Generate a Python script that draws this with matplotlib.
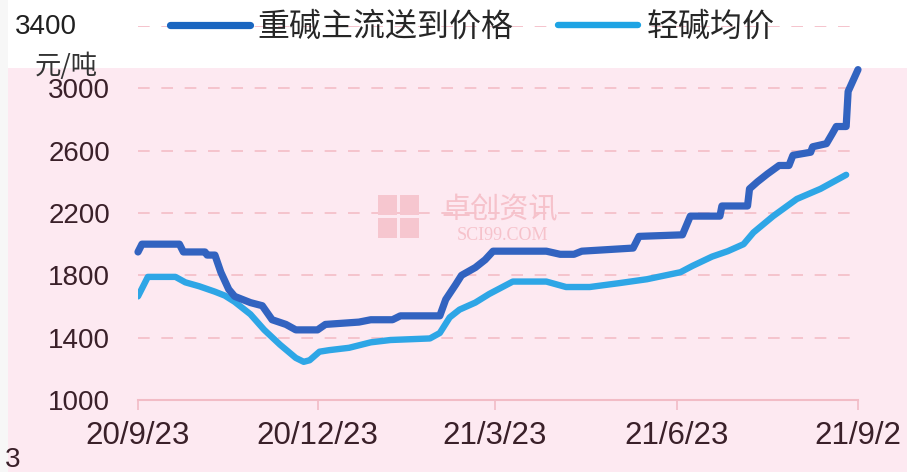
import matplotlib
matplotlib.use("Agg")
import matplotlib.pyplot as plt
from matplotlib.patches import Rectangle
import pandas as pd

# ---- data ----
heavy_dates = ["2020-09-23", "2020-09-25", "2020-10-14", "2020-10-16", "2020-10-27", "2020-10-28",
               "2020-11-01", "2020-11-04", "2020-11-08", "2020-11-11", "2020-11-19", "2020-11-25",
               "2020-11-30", "2020-12-07", "2020-12-12", "2020-12-23", "2020-12-27", "2021-01-13",
               "2021-01-19", "2021-01-30", "2021-02-03", "2021-02-23", "2021-02-26", "2021-03-03",
               "2021-03-06", "2021-03-13", "2021-03-18", "2021-03-22", "2021-04-18", "2021-04-25",
               "2021-05-02", "2021-05-06", "2021-06-01", "2021-06-04", "2021-06-26", "2021-06-30",
               "2021-07-15", "2021-07-16", "2021-07-29", "2021-07-30", "2021-08-03", "2021-08-08",
               "2021-08-14", "2021-08-19", "2021-08-21", "2021-08-30", "2021-08-31", "2021-09-07",
               "2021-09-10", "2021-09-12", "2021-09-17", "2021-09-18", "2021-09-23"]
heavy_values = [1950, 2000, 2000, 1950, 1950, 1930,
                1930, 1820, 1710, 1665, 1625, 1605,
                1515, 1485, 1450, 1450, 1485, 1500,
                1515, 1515, 1540, 1540, 1645, 1740,
                1800, 1850, 1900, 1955, 1955, 1935,
                1935, 1955, 1975, 2050, 2060, 2180,
                2180, 2245, 2245, 2355, 2400, 2450,
                2505, 2505, 2570, 2590, 2625, 2645,
                2710, 2755, 2755, 2980, 3120]

light_dates = ["2020-09-23", "2020-09-28", "2020-10-12", "2020-10-17", "2020-10-24", "2020-11-01",
               "2020-11-06", "2020-11-11", "2020-11-19", "2020-11-26", "2020-12-04", "2020-12-12",
               "2020-12-16", "2020-12-19", "2020-12-24", "2020-12-29", "2021-01-08", "2021-01-19",
               "2021-01-29", "2021-02-18", "2021-02-23", "2021-02-28", "2021-03-05", "2021-03-13",
               "2021-03-20", "2021-04-01", "2021-04-18", "2021-04-28", "2021-05-10", "2021-05-25",
               "2021-06-08", "2021-06-25", "2021-07-01", "2021-07-11", "2021-07-19", "2021-07-27",
               "2021-08-01", "2021-08-11", "2021-08-23", "2021-09-04", "2021-09-17"]
light_values = [1665, 1790, 1790, 1755, 1730, 1695,
                1670, 1630, 1550, 1450, 1355, 1270,
                1245, 1255, 1310, 1320, 1335, 1370,
                1385, 1395, 1430, 1530, 1580, 1625,
                1680, 1760, 1760, 1725, 1725, 1750,
                1775, 1820, 1860, 1920, 1955, 2000,
                2075, 2180, 2290, 2355, 2445]

series_names = ["重碱主流送到价格", "轻碱均价"]
x_tick_dates = ["2020-09-23", "2020-12-23", "2021-03-23", "2021-06-23", "2021-09-23"]
x_tick_labels = ["20/9/23", "20/12/23", "21/3/23", "21/6/23", "21/9/2"]
y_ticks = [1000, 1400, 1800, 2200, 2600, 3000, 3400]
unit_label = "元/吨"

# ---- figure ----
W, H = 907, 472
fig = plt.figure(figsize=(W / 100, H / 100), dpi=100)
fig.patch.set_facecolor("#f7f7f7")
fig.patches.append(Rectangle((8 / W, 0), 1 - 8 / W, 1 - 68 / H, transform=fig.transFigure,
                             facecolor="#fde9f1", edgecolor="none", zorder=-1))
fig.patches.append(Rectangle((8 / W, 1 - 68 / H), 1 - 8 / W, 68 / H, transform=fig.transFigure,
                             facecolor="#ffffff", edgecolor="none", zorder=-1))

ax = fig.add_axes([138 / W, 1 - 400 / H, (858 - 138) / W, (400 - 26) / H])
ax.set_facecolor("none")

hd = pd.to_datetime(heavy_dates)
ld = pd.to_datetime(light_dates)
ax.plot(hd, heavy_values, color="#3263c0", lw=5.2, solid_capstyle="round",
        solid_joinstyle="round", label=series_names[0], zorder=3, clip_on=False)
ax.plot(ld, light_values, color="#2ea6e6", lw=4.6, solid_capstyle="round",
        solid_joinstyle="round", label=series_names[1], zorder=2)

ax.set_xlim(pd.Timestamp(x_tick_dates[0]), pd.Timestamp(x_tick_dates[-1]))
ax.set_ylim(y_ticks[0], y_ticks[-1])
ax.set_yticks(y_ticks)
ylabels = [str(v) for v in y_ticks]
top_label = ylabels[-1]
ylabels[-1] = ""
ax.set_yticklabels(ylabels, fontsize=20, family="Liberation Sans", color="#3a2029")
ax.set_xticks(pd.to_datetime(x_tick_dates))
ax.set_xticklabels(x_tick_labels, fontsize=22.5, family="Liberation Sans", color="#3a2029")

ax.tick_params(axis="y", length=0, pad=20)
ax.tick_params(axis="x", length=7, width=1.2, color="#f2bcc6", pad=8)

for s in ["top", "right", "left"]:
    ax.spines[s].set_visible(False)
ax.spines["bottom"].set_color("#f2bcc6")
ax.spines["bottom"].set_linewidth(1.5)

ax.yaxis.grid(True, linestyle=(0, (6, 6)), color="#f5c3cc", lw=1.4)
ax.xaxis.grid(False)
ax.set_axisbelow(True)

# top y label (offset in the reference)
fig.text(15 / W, 1 - 27 / H, top_label, fontsize=20, color="#202020", family="Liberation Sans",
         ha="left", va="center")

# legend
leg = ax.legend(loc="center", bbox_to_anchor=(472 / W, 1 - 27 / H), bbox_transform=fig.transFigure,
                ncol=2, frameon=False, handlelength=2.5, handletextpad=0.25, columnspacing=1.4,
                prop={"family": ["Noto Sans CJK SC", "DejaVu Sans"], "size": 23})
leg.get_lines()[0].set_color("#1a66c0")
leg.get_lines()[1].set_color("#1ea4e4")
for t in leg.get_texts():
    t.set_color("#262626")

# unit label
fig.text(35 / W, 1 - 66 / H, unit_label, fontsize=19, color="#333333",
         family=["Noto Sans CJK SC", "DejaVu Sans"], va="center", ha="left")

# wrapped last character of final x label
fig.text(5 / W, 1 - 460 / H, "3", fontsize=20, color="#3a2029", family="Liberation Sans",
         va="center", ha="left")

# watermark
for (x0, y0) in [(378, 195), (400, 195), (378, 218), (400, 218)]:
    fig.patches.append(Rectangle((x0 / W, 1 - (y0 + 20) / H), 19 / W, 20 / H, transform=fig.transFigure,
                                 facecolor="#f6c6cf", edgecolor="none", zorder=1))
fig.text(500 / W, 1 - 210 / H, "卓创资讯", fontsize=21, color="#f6c2cb",
         family=["Noto Sans CJK SC", "DejaVu Sans"], ha="center", va="center", zorder=1)
fig.text(502 / W, 1 - 236 / H, "SCI99.COM", fontsize=13, color="#f6c2cb",
         family="Liberation Serif", ha="center", va="center", zorder=1)

fig.savefig("out.png", dpi=100)
